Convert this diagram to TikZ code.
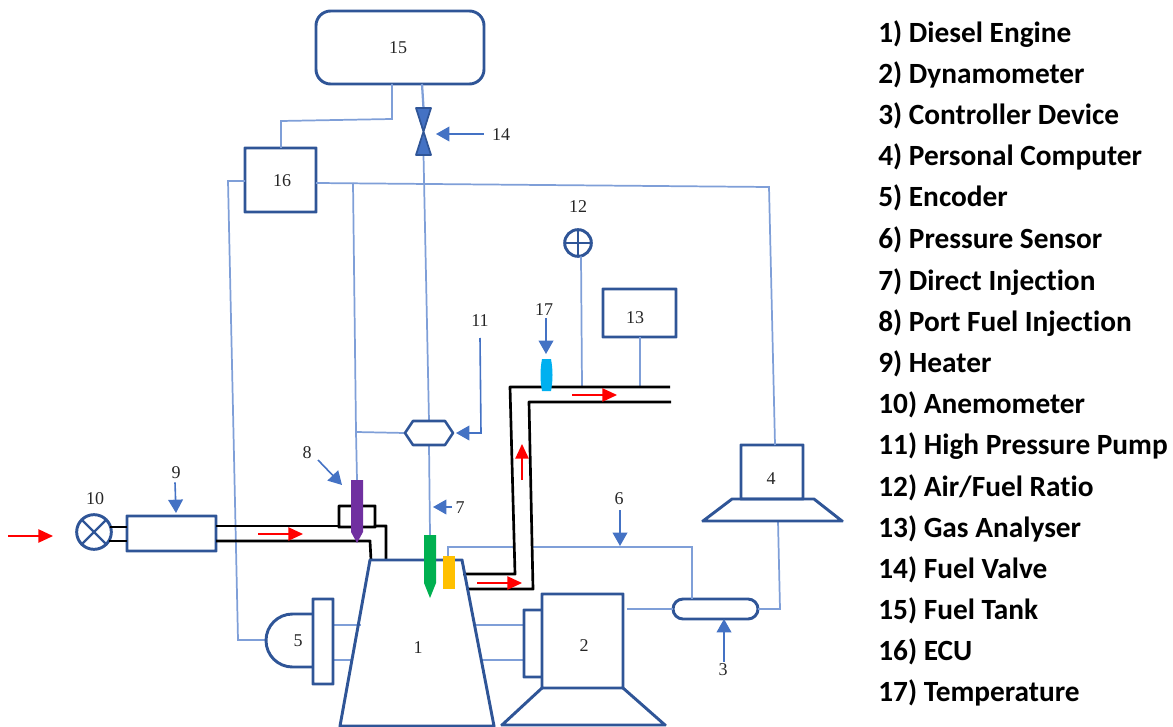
\documentclass[tikz,border=0pt]{standalone}
\usepackage{fontspec}
\setmainfont{Liberation Serif}
\newfontfamily\legendfont[Ligatures=NoCommon]{Carlito}
\usetikzlibrary{arrows.meta,calc}
\definecolor{dkblue}{HTML}{2F5597}
\definecolor{midblue}{HTML}{4472C4}
\definecolor{thinblue}{HTML}{7F9FD8}
\tikzset{
  x=0.75pt,y=-0.75pt,
  outl/.style={draw=dkblue,line width=2.2pt,line join=miter,rounded corners=0.1pt},
  blk/.style={draw=black,line width=2pt,line join=miter,rounded corners=0.1pt},
  thin wire/.style={draw=thinblue,line width=1.3pt},
  lbl/.style={font=\fontsize{13.5pt}{16pt}\selectfont,text=black!85,inner sep=0pt},
  bluearr/.style={draw=midblue,line width=1.2pt,-{Triangle[length=10pt,width=11pt,fill=midblue]}},
  redarr/.style={draw=red,line width=1.1pt,-{Triangle[length=11pt,width=10pt,fill=red]}},
  legend/.style={anchor=base west,inner sep=0pt,font=\legendfont\bfseries\fontsize{22pt}{26pt}\selectfont},
}
\newcommand{\pbox}[6][]{%
  \pgfmathsetmacro\pw{(#5-#3)*0.75}%
  \pgfmathsetmacro\ph{(#6-#4)*0.75}%
  \node[outer sep=0pt,inner sep=0pt,minimum width=\pw pt,minimum height=\ph pt,#1] (#2) at ({(#3+#5)/2},{(#4+#6)/2}) {};}
\begin{document}
\begin{tikzpicture}
\useasboundingbox (0,0) rectangle (1173,727);

% ---------- boxes
\pbox[outl,fill=white,rounded corners=11pt]{tank}{316}{11}{484}{84}
\pbox[outl]{ecu}{245}{148}{316}{212}
\pbox{valve}{416}{108}{431}{155}
\pbox{hex}{405}{421}{453}{445}
\pbox{green}{424}{535}{436}{598}
\pbox{orange}{443}{556}{455}{589}
\pbox{purple}{351}{480}{363}{543}
\pbox[outl]{heater}{127}{516}{216}{551}
\pbox{blade}{313}{599}{333}{684}
\pbox[outl]{pc}{741}{445}{803}{499}
\pbox{dyno}{542}{594}{623}{688}
\pbox{flange}{524}{610}{542}{677}
\pbox[outl,rounded corners=7.5pt]{ctrl}{673}{599}{758}{619}
\pbox[outl]{gas}{603}{289}{676}{337}
\pbox{temp}{541}{359}{552}{391}
\node[outl,circle,minimum size=26pt,inner sep=0pt,outer sep=0pt] (anemo) at (94,532) {};
\node[outl,circle,minimum size=20pt,inner sep=0pt,outer sep=0pt] (afr) at (578,243) {};

\coordinate (exA) at (582,387);
\coordinate (exB) at (640,387);
\coordinate (w16a) at (281,121);
\coordinate (w16b) at (392,119);
\coordinate (w16c) at (392,84);
\coordinate (w4a) at (769,187);
\coordinate (w4b) at (775,445);
\coordinate (br1) at (353,183);
\coordinate (br2) at (356,432);
\coordinate (w5a) at (228,181);
\coordinate (w5b) at (238,640);
\coordinate (dome) at (266,640);
\coordinate (w3a) at (780,609);
\coordinate (pcbase) at (778,521);
\coordinate (o1) at (448,547);
\coordinate (o2) at (513,547);
\coordinate (o3) at (533,547);
\coordinate (o4) at (692,547);

\draw[thin wire] (ecu.north -| w16a) -- (w16a) -- (w16b) -- (w16c);
\draw[thin wire,line width=1.7pt] (422,84) -- (valve.north);
\draw[thin wire] (valve.south) -- (hex.north);
\draw[thin wire] (hex.south) -- (green.north);
\draw[thin wire] (ecu.east |- br1) -- (w4a) -- (w4b);
\draw[thin wire] (br1) -- (br2) -- (purple.north);
\draw[thin wire] (hex.west) -- (br2);
\draw[thin wire] (ecu.west |- w5a) -- (w5a) -- (w5b) -- (dome);
\draw[thin wire] (blade.east |- 0,625) -- (361,625);
\draw[thin wire] (blade.east |- 0,660) -- (352,660);
\draw[thin wire] (476,625) -- (flange.west |- 0,625);
\draw[thin wire] (482,660) -- (flange.west |- 0,660);
\draw[thin wire] (627,609) -- (ctrl.west);
\draw[thin wire] (ctrl.east) -- (w3a) -- (pcbase);
\draw[thin wire] (orange.north -| o1) -- (o1) -- (o2);
\draw[thin wire] (o3) -- (o4) -- (o4 |- ctrl.north);
\draw[thin wire] (afr.south) ++(3,0) -- (exA);
\draw[thin wire] (gas.south -| exB) -- (exB);

% ---------- black pipes
\draw[blk] (anemo.center |- 0,527) ++(16,0) -- (heater.west |- 0,527);
\draw[blk] (anemo.center |- 0,541) ++(15,0) -- (heater.west |- 0,541);
\draw[blk] (heater.east |- 0,526) -- (339,526);
\draw[blk] (339,527) -- (339,506) -- (375,506) -- (375,527) -- cycle;
\draw[blk] (375,526) -- (386,526) -- (386,560);
\draw[blk] (heater.east |- 0,541) -- (370,541) -- (371,560);
\draw[blk] (463,574) -- (515,574) -- (510,387) -- (670,387);
\draw[blk] (468,589) -- (533,589) -- (529,402) -- (671,402);

% ---------- outlined shapes
\draw[outl] (370,560) -- (462,560) -- (494,726) -- (340,726) -- cycle;
\draw[outl] (blade.north west) -- (blade.north east) -- (blade.south east) -- (blade.south west) -- cycle;
\draw[draw=dkblue,line width=2.2pt] (313,614) -- (292.5,614) arc[start angle=-90,end angle=-270,radius=26.5] -- (313,667);
\draw[outl] (dyno.north west) -- (dyno.north east) -- (dyno.south east) -- (dyno.south west) -- cycle;
\draw[outl] (flange.north east) -- (flange.north west) -- (flange.south west) -- (flange.south east);
\draw[outl] (dyno.south west) -- (502,725) -- (665,725) -- (dyno.south east);
\draw[outl] (pc.south west) ++(-9,0) -- (703,521) -- (842,521) -- (814,499) -- cycle;
\draw[outl,line width=1.9pt] (hex.west) -- (413,421) -- (445,421) -- (hex.east) -- (445,445) -- (413,445) -- cycle;
\draw[dkblue,line width=1.6pt] (anemo.45) -- (anemo.225) (anemo.135) -- (anemo.315);
\draw[dkblue,line width=1.6pt] (afr.north) -- (afr.south) (afr.west) -- (afr.east);

% ---------- filled parts
\fill[midblue] (416,108) -- (431,108) -- (423.5,134) -- (431,155) -- (416,155) -- (423.5,134) -- cycle;
\draw[dkblue,line width=1.3pt,line join=round] (416,108) -- (431,108) -- (416,155) -- (431,155) -- cycle;
\fill[fill={rgb,255:red,0;green,176;blue,80}] (424,535) -- (436,535) -- (436,583) -- (430,598) -- (424,583) -- cycle;
\fill[fill={rgb,255:red,255;green,192;blue,0}] (orange.north west) rectangle (orange.south east);
\fill[fill={rgb,255:red,112;green,48;blue,160}] (351,480) -- (363,480) -- (363,532) -- (357,543) -- (351,532) -- cycle;
\fill[fill={rgb,255:red,0;green,176;blue,240}] (542,359) -- (551,359) .. controls (553,370) and (553,380) .. (551,391) -- (542,391) .. controls (540,380) and (540,370) .. (542,359) -- cycle;

% ---------- labels
\node[lbl] (l1) at (418,648) {1};
\node[lbl] (l2) at (584,646) {2};
\node[lbl] (l3) at (723,670) {3};
\node[lbl] (l4) at (771,479) {4};
\node[lbl] (l5) at (298,641) {5};
\node[lbl] (l6) at (619,499) {6};
\node[lbl] (l7) at (460,508) {7};
\node[lbl] (l8) at (307,453) {8};
\node[lbl] (l9) at (176,473) {9};
\node[lbl] (l10) at (95,499) {10};
\node[lbl] (l11) at (480,321) {11};
\node[lbl] (l12) at (578,207) {12};
\node[lbl] (l13) at (635,318) {13};
\node[lbl] (l14) at (501,135) {14};
\node[lbl] (l15) at (398,48) {15};
\node[lbl] (l16) at (282,181) {16};
\node[lbl] (l17) at (544,310) {17};

% ---------- pointer arrows
\draw[bluearr] (l3.north) ++(1,-2) -- (ctrl.south -| 724,0);
\draw[bluearr] (l6.south) ++(1,5) -- (620,546);
\draw[bluearr] (l7.west) ++(-3,-1) -- (433,507);
\draw[bluearr] (318,460) -- (342,485);
\draw[bluearr] (l9.south) ++(-1,3) -- (176,513);
\draw[bluearr] (480,338) -- (481,433) -- (456,433);
\draw[bluearr] (l14.west) ++(-8,-1) -- (436,134);
\draw[bluearr] (l17.south) ++(2,2) -- (546,354);

% ---------- flow arrows
\coordinate (r1a) at (8,536); \coordinate (r1b) at (53,536);
\coordinate (r2a) at (258,534); \coordinate (r2b) at (303,534);
\coordinate (r3a) at (477,583); \coordinate (r3b) at (522,583);
\coordinate (r4a) at (522,480); \coordinate (r4b) at (522,444);
\coordinate (r5a) at (572,395); \coordinate (r5b) at (617,395);
\draw[redarr] (r1a) -- (r1b);
\draw[redarr] (r2a) -- (r2b);
\draw[redarr] (r3a) -- (r3b);
\draw[redarr] (r4a) -- (r4b);
\draw[redarr] (r5a) -- (r5b);

% ---------- legend
\node[legend] (k1) at (878,43) {1) Diesel Engine};
\node[legend] (k2) at (878,84) {2) Dynamometer};
\node[legend] (k3) at (878,125) {3) Controller Device};
\node[legend] (k4) at (878,166) {4) Personal Computer};
\node[legend] (k5) at (878,207) {5) Encoder};
\node[legend] (k6) at (878,248) {6) Pressure Sensor};
\node[legend] (k7) at (878,290) {7) Direct Injection};
\node[legend] (k8) at (878,331) {8) Port Fuel Injection};
\node[legend] (k9) at (878,372) {9) Heater};
\node[legend] (k10) at (878,413) {10) Anemometer};
\node[legend] (k11) at (878,454) {11) High Pressure Pump};
\node[legend] (k12) at (878,496) {12) Air/Fuel Ratio};
\node[legend] (k13) at (878,537) {13) Gas Analyser};
\node[legend] (k14) at (878,578) {14) Fuel Valve};
\node[legend] (k15) at (878,619) {15) Fuel Tank};
\node[legend] (k16) at (878,660) {16) ECU};
\node[legend] (k17) at (878,701) {17) Temperature};
\end{tikzpicture}
\end{document}
